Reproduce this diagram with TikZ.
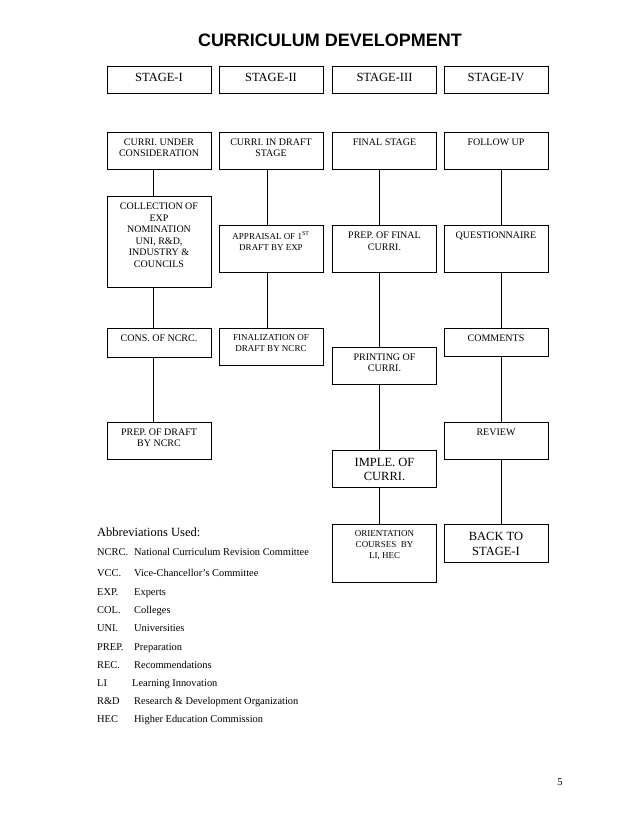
\documentclass[tikz,border=0pt]{standalone}
\usepackage{fontspec}
\setmainfont{Liberation Serif}
\newfontfamily\titlefont{Liberation Sans}
\begin{document}
\begin{tikzpicture}[x=1pt,y=-1pt,
  bx/.style={draw, line width=0.8pt, inner sep=0pt, minimum width=104pt},
  tx/.style={anchor=north, inner sep=0pt, align=center, font=\fontsize{10}{11.5}\selectfont},
  txs/.style={anchor=north, inner sep=0pt, align=center, font=\fontsize{9}{11}\selectfont},
  txl/.style={anchor=north, inner sep=0pt, align=center, font=\fontsize{12.5}{14.5}\selectfont},
  ln/.style={line width=0.8pt},
  ab/.style={anchor=base west, inner sep=0pt, font=\fontsize{10.4}{12}\selectfont}]
\useasboundingbox (0,0) rectangle (638,826);
\fill[white] (0,0) rectangle (638,826);
% title
\node[anchor=base, inner sep=0pt, font=\titlefont\bfseries\fontsize{18}{20}\selectfont] (title) at (330,47) {CURRICULUM DEVELOPMENT};
% stage headers
\node[bx, minimum height=27] (s1) at (159,79.5) {};
\node[txl] at ([yshift=-7.5]s1.north) {STAGE-I};
\node[bx, minimum height=27] (s2) at (271,79.5) {};
\node[txl] at ([yshift=-7.5]s2.north) {STAGE-II};
\node[bx, minimum height=27] (s3) at (384.5,79.5) {};
\node[txl] at ([yshift=-7.5]s3.north) {STAGE-III};
\node[bx, minimum height=27] (s4) at (496,79.5) {};
\node[txl] at ([yshift=-7.5]s4.north) {STAGE-IV};
% row a
\node[bx, minimum height=37] (a1) at (159,150.5) {};
\node[tx] at ([yshift=-7]a1.north) {CURRI. UNDER\\CONSIDERATION};
\node[bx, minimum height=37] (a2) at (271,150.5) {};
\node[tx] at ([yshift=-7]a2.north) {CURRI. IN DRAFT\\STAGE};
\node[bx, minimum height=37] (a3) at (384.5,150.5) {};
\node[tx] at ([yshift=-7]a3.north) {FINAL STAGE};
\node[bx, minimum height=37] (a4) at (496,150.5) {};
\node[tx] at ([yshift=-7]a4.north) {FOLLOW UP};
% row b
\node[bx, minimum height=91] (b1) at (159,241.5) {};
\node[tx] at ([yshift=-7.5]b1.north) {COLLECTION OF\\EXP\\NOMINATION\\UNI, R\&D,\\INDUSTRY \&\\COUNCILS};
\node[bx, minimum height=47] (b2) at (271,248.5) {};
\node[txs] at ([yshift=-6.5]b2.north) {APPRAISAL OF 1\textsuperscript{ST}\\DRAFT BY EXP};
\node[bx, minimum height=47] (b3) at (384.5,248.5) {};
\node[tx] at ([yshift=-7.5]b3.north) {PREP. OF FINAL\\CURRI.};
\node[bx, minimum height=47] (b4) at (496,248.5) {};
\node[tx] at ([yshift=-7.5]b4.north) {QUESTIONNAIRE};
% row c
\node[bx, minimum height=29] (c1) at (159,342.5) {};
\node[tx] at ([yshift=-7.5]c1.north) {CONS. OF NCRC.};
\node[bx, minimum height=37] (c2) at (271,346.5) {};
\node[txs] at ([yshift=-6.5]c2.north) {FINALIZATION OF\\DRAFT BY NCRC};
\node[bx, minimum height=37] (c3) at (384.5,365.5) {};
\node[tx] at ([yshift=-7]c3.north) {PRINTING OF\\CURRI.};
\node[bx, minimum height=28] (c4) at (496,342) {};
\node[tx] at ([yshift=-7.5]c4.north) {COMMENTS};
% row d
\node[bx, minimum height=37] (d1) at (159,440.5) {};
\node[tx] at ([yshift=-7]d1.north) {PREP. OF DRAFT\\BY NCRC};
\node[bx, minimum height=37] (d3) at (384.5,468.5) {};
\node[txl] at ([yshift=-8]d3.north) {IMPLE. OF\\CURRI.};
\node[bx, minimum height=37] (d4) at (496,440.5) {};
\node[tx] at ([yshift=-7.5]d4.north) {REVIEW};
% row e
\node[bx, minimum height=58] (e3) at (384.5,553) {};
\node[txs] at ([yshift=-7]e3.north) {ORIENTATION\\COURSES\ \ BY\\LI, HEC};
\node[bx, minimum height=38] (e4) at (496,543) {};
\node[txl] at ([yshift=-8.5]e4.north) {BACK TO\\STAGE-I};
% connectors
\draw[ln] ([xshift=-6]a1.south) -- ([xshift=-6]b1.north);
\draw[ln] ([xshift=-6]b1.south) -- ([xshift=-6]c1.north);
\draw[ln] ([xshift=-6]c1.south) -- ([xshift=-6]d1.north);
\draw[ln] ([xshift=-4]a2.south) -- ([xshift=-4]b2.north);
\draw[ln] ([xshift=-4]b2.south) -- ([xshift=-4]c2.north);
\draw[ln] ([xshift=-5.5]a3.south) -- ([xshift=-5.5]b3.north);
\draw[ln] ([xshift=-5.5]b3.south) -- ([xshift=-5.5]c3.north);
\draw[ln] ([xshift=-5.5]c3.south) -- ([xshift=-5.5]d3.north);
\draw[ln] ([xshift=-5.5]d3.south) -- ([xshift=-5.5]e3.north);
\draw[ln] ([xshift=5]a4.south) -- ([xshift=5]b4.north);
\draw[ln] ([xshift=5]b4.south) -- ([xshift=5]c4.north);
\draw[ln] ([xshift=5]c4.south) -- ([xshift=5]d4.north);
\draw[ln] ([xshift=5]d4.south) -- ([xshift=5]e4.north);
% abbreviations
\node[anchor=base west, inner sep=0pt, font=\fontsize{12.5}{14}\selectfont] (abh) at (97,536) {Abbreviations Used:};
\node[ab] (k1) at (97,555.5) {NCRC.}; \node[ab] (v1) at (134,555.5) {National Curriculum Revision Committee};
\node[ab] (k2) at (97,576.5) {VCC.}; \node[ab] (v2) at (134,576.5) {Vice-Chancellor's Committee};
\node[ab] (k3) at (97,595.5) {EXP.}; \node[ab] (v3) at (134,595.5) {Experts};
\node[ab] (k4) at (97,613.5) {COL.}; \node[ab] (v4) at (134,613.5) {Colleges};
\node[ab] (k5) at (97,631.5) {UNI.}; \node[ab] (v5) at (134,631.5) {Universities};
\node[ab] (k6) at (97,650.5) {PREP.}; \node[ab] (v6) at (134,650.5) {Preparation};
\node[ab] (k7) at (97,668.5) {REC.}; \node[ab] (v7) at (134,668.5) {Recommendations};
\node[ab] (k8) at (97,686.5) {LI}; \node[ab] (v8) at (132,686.5) {Learning Innovation};
\node[ab] (k9) at (97,704.5) {R\&D}; \node[ab] (v9) at (134,704.5) {Research \& Development Organization};
\node[ab] (k10) at (97,722.5) {HEC}; \node[ab] (v10) at (134,722.5) {Higher Education Commission};
% page number
\node[anchor=base, inner sep=0pt, font=\fontsize{10.4}{12}\selectfont] (pg) at (560,785) {5};
\end{tikzpicture}
\end{document}
